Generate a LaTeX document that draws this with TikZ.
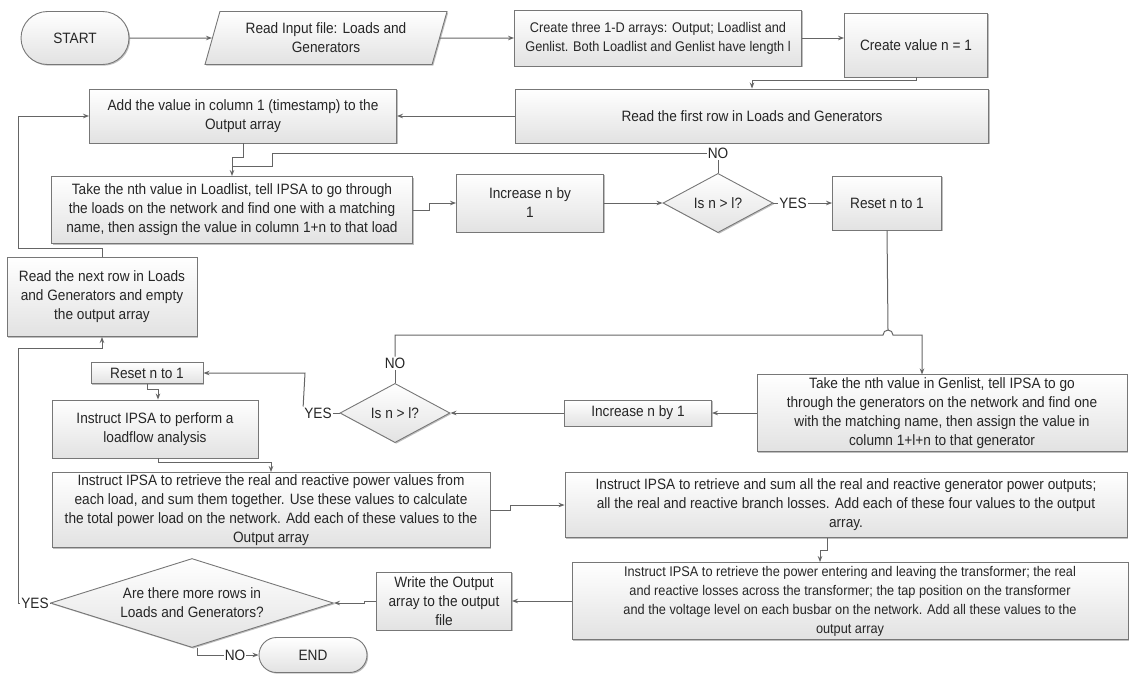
\documentclass[tikz,border=0pt]{standalone}
\usepackage{fontspec}
\setmainfont{Liberation Sans}[FakeStretch=0.91]
\usetikzlibrary{shapes.geometric,shapes.misc,arrows.meta,calc,shadows}
\definecolor{lnc}{HTML}{656565}
\definecolor{bdc}{HTML}{777777}
\definecolor{txc}{HTML}{262626}
\definecolor{botc}{HTML}{E2E2E2}
\begin{document}
\begin{tikzpicture}[x=1pt,y=-1pt,
  base/.style={draw=bdc, line width=0.9pt, top color=white, bottom color=botc, text=txc,
    font=\fontsize{15}{19}\selectfont, align=center, inner sep=1pt,
    drop shadow={shadow xshift=1.2pt,shadow yshift=-1.2pt,opacity=0.25,fill=black}},
  box/.style={base, rectangle},
  smalltext/.style={font=\fontsize{14}{19}\selectfont},
  term/.style={base, rounded rectangle},
  dec/.style={base, diamond, inner sep=0pt},
  io/.style={base, trapezium, trapezium left angle=65, trapezium right angle=115, trapezium stretches body},
  lab/.style={text=txc, font=\fontsize{15}{19}\selectfont, inner sep=1pt, fill=white},
  arr/.style={draw=lnc, line width=1pt, -{Stealth[length=6pt,width=4.5pt]}},
  lnk/.style={draw=lnc, line width=1pt}]
\useasboundingbox (0,0) rectangle (1131,673);

% nodes
\node[term, minimum width=110pt, minimum height=53pt] (start) at (75,38) {START};
\node[io, minimum width=242pt, minimum height=53pt] (input) at (326,38) {Read Input file: Loads and\\Generators};
\node[box, smalltext, minimum width=287pt, minimum height=56pt] (arrays) at (658,38) {Create three 1-D arrays: Output; Loadlist and\\Genlist. Both Loadlist and Genlist have length l};
\node[box, minimum width=143pt, minimum height=64pt] (nval) at (916,45) {Create value n = 1};
\node[box, minimum width=473pt, minimum height=54pt] (first) at (752,116) {Read the first row in Loads and Generators};
\node[box, minimum width=307pt, minimum height=54pt] (addv) at (243,116) {Add the value in column 1 (timestamp) to the\\Output array};
\node[box, minimum width=361pt, minimum height=67pt] (loadlist) at (232,210) {Take the nth value in Loadlist, tell IPSA to go through\\the loads on the network and find one with a matching\\name, then assign the value in column 1+n to that load};
\node[box, minimum width=147pt, minimum height=58pt] (inc1) at (530,203) {Increase n by\\1};
\node[dec, minimum width=110pt, minimum height=53pt] (d1) at (718,203) {Is n > l?};
\node[box, minimum width=109pt, minimum height=54pt] (reset1) at (887,203) {Reset n to 1};
\node[box, minimum width=190pt, minimum height=79pt] (nextrow) at (102,297) {Read the next row in Loads\\and Generators and empty\\the output array};
\node[box, minimum width=370pt, minimum height=77pt] (genlist) at (942,413) {Take the nth value in Genlist, tell IPSA to go\\through the generators on the network and find one\\with the matching name, then assign the value in\\column 1+l+n to that generator};
\node[box, minimum width=147pt, minimum height=26pt] (inc2) at (638,413) {Increase n by 1};
\node[dec, minimum width=110pt, minimum height=53pt] (d2) at (395,413) {Is n > l?};
\node[box, minimum width=112pt, minimum height=21pt] (reset2) at (147,373) {Reset n to 1};
\node[box, minimum width=206pt, minimum height=58pt] (loadflow) at (155,429) {Instruct IPSA to perform a\\loadflow analysis};
\node[box, minimum width=438pt, minimum height=75pt] (loadret) at (271,510) {Instruct IPSA to retrieve the real and reactive power values from\\each load, and sum them together. Use these values to calculate\\the total power load on the network. Add each of these values to the\\Output array};
\node[box, minimum width=562pt, minimum height=65pt] (sumall) at (846,505) {Instruct IPSA to retrieve and sum all the real and reactive generator power outputs;\\all the real and reactive branch losses. Add each of these four values to the output\\array.};
\node[box, smalltext, minimum width=556pt, minimum height=77pt] (trans) at (850,601) {Instruct IPSA to retrieve the power entering and leaving the transformer; the real\\and reactive losses across the transformer; the tap position on the transformer\\and the voltage level on each busbar on the network. Add all these values to the\\output array};
\node[box, minimum width=135pt, minimum height=58pt] (write) at (444,601) {Write the Output\\array to the output\\file};
\node[dec, aspect=3.2, minimum width=283pt, minimum height=89pt] (d3) at (192,603) {Are there more rows in\\Loads and Generators?};
\node[term, minimum width=110pt, minimum height=35pt] (endn) at (313,655) {END};

% labels
\node[lab] (no1) at (718,153) {NO};
\node[lab] (yes1) at (793,203) {YES};
\node[lab] (no2) at (395,363) {NO};
\node[lab] (yes2) at (318,413) {YES};
\node[lab] (no3) at (235,655) {NO};
\node[lab] (yes3) at (35,603) {YES};

% bend points
\coordinate (j1) at (232,166);
\coordinate (hopl) at (883,335);
\coordinate (gin) at (922,374.5);

% connectors
\draw[arr] (start) -- (input);
\draw[arr] (input) -- (arrays);
\draw[arr] (arrays.east) -- (arrays.east -| nval.west);
\draw[arr] (nval.south) -- ++(0,3) -| (first.north);
\draw[arr] (first.west) -- (addv.east);
\draw[lnk] (addv.south) -- ++(0,14) -| (j1);
\draw[arr] (j1) -- (loadlist.north);
\draw[lnk] (d1.north) -- (no1.south);
\draw[lnk] (no1.west) -- (272,153) -- (272,166) -- (j1);
\draw[arr] (loadlist.east) -- ++(17,0) |- (inc1.west);
\draw[arr] (inc1.east) -- (d1.west);
\draw[lnk] (d1.east) -- (yes1.west);
\draw[arr] (yes1.east) -- (reset1.west);
\draw[lnk] (reset1.south) -- (888,330);
\draw[lnk] (d2.north) -- (no2.south);
\draw[arr] (no2.north) |- (hopl) arc (180:360:5) -- (gin |- hopl) -- (gin);
\draw[arr] (genlist.west) -- (inc2.east);
\draw[arr] (inc2.west) -- (d2.east);
\draw[lnk] (d2.west) -- (yes2.east);
\draw[arr] (yes2.north west) -- (305,373) -- (reset2.east);
\draw[arr] (reset2.south) -- ++(0,6) -| ($(loadflow.north)+(3,0)$);
\draw[arr] ($(loadflow.south)+(3,0)$) -- ++(0,4) -| (loadret.north);
\draw[arr] (loadret.east) -- ++(20,0) |- (sumall.west);
\draw[arr] ($(sumall.south)+(-19,0)$) -- ++(0,13) -| ($(trans.north)+(-30,0)$);
\draw[arr] (trans.west) -- (write.east);
\draw[arr] (write.west) -- ++(-12,0) |- (d3.east);
\draw[lnk] ($(d3.south)+(5,0)$) |- (no3.west);
\draw[arr] (no3.east) -- (endn.west);
\draw[lnk] (d3.west) -- (yes3.east);
\draw[arr] (yes3.west) -- (18,603) -- (18,348) -| (nextrow.south);
\draw[arr] (nextrow.north) -- ++(0,-9) -| (18,116) -- (addv.west);
\end{tikzpicture}
\end{document}
